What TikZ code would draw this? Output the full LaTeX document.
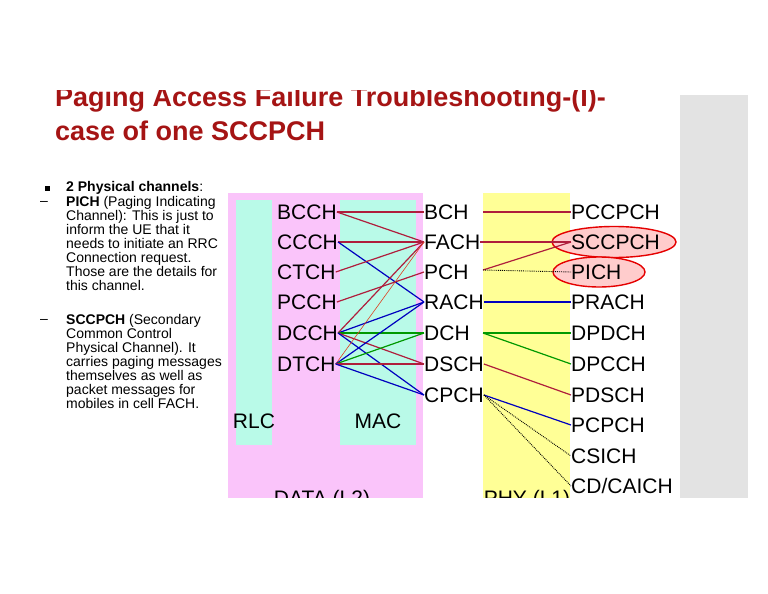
\documentclass[tikz,border=0pt]{standalone}
\usepackage{fontspec}
\setmainfont{Liberation Sans}
\usetikzlibrary{shapes.geometric}
\definecolor{pinkbg}{RGB}{250,196,250}
\definecolor{mint}{RGB}{185,250,232}
\definecolor{yel}{RGB}{255,255,150}
\definecolor{lred}{RGB}{175,30,60}
\definecolor{ttl}{RGB}{165,20,20}
\begin{document}
\begin{tikzpicture}[x=1pt,y=-1pt,
  ch/.style={font=\fontsize{21}{22}\selectfont,inner sep=0pt,text height=15pt,text depth=0pt,anchor=west},
  lbl/.style={font=\fontsize{21}{22}\selectfont,inner sep=0pt},
  body/.style={font=\fontsize{14}{14}\selectfont,inner sep=0pt,anchor=north west,align=left},
  rl/.style={draw=lred,line width=1.2pt},
  bl/.style={draw=blue!75!black,line width=1.2pt},
  gl/.style={draw=green!60!black,line width=1.2pt},
  dl/.style={draw=black,densely dotted,line width=0.9pt},
  ring/.style={draw=red!90!black,line width=1.4pt,fill=red!20,ellipse}]
\useasboundingbox (0,0) rectangle (768,594);
\fill[white] (0,0) rectangle (768,594);
\fill[gray!22] (680,95) rectangle (748,498);
% title
\node[anchor=west,inner sep=0pt,text=ttl,font=\bfseries\fontsize{27}{28}\selectfont] (t1) at (55,100) {Paging Access Failure Troubleshooting-(I)-};
\node[anchor=west,inner sep=0pt,text=ttl,font=\bfseries\fontsize{27}{28}\selectfont] (t2) at (55,131) {case of one SCCPCH};
\fill[white] (40,0) rectangle (680,90);
% left text
\node[inner sep=0pt,minimum size=5pt,fill=black] (b0) at (47,188) {};
\node[body,anchor=west] (b1) at (66,188) {\textbf{2 Physical channels}:};
\node[body,anchor=west] (d1) at (40,203) {--};
\node[body] (p1) at (66,196) {\textbf{PICH} (Paging Indicating\\Channel): This is just to\\inform the UE that it\\needs to initiate an RRC\\Connection request.\\Those are the details for\\this channel.};
\node[body,anchor=west] (d2) at (40,321) {--};
\node[body] (p2) at (66,314) {\textbf{SCCPCH} (Secondary\\Common Control\\Physical Channel). It\\carries paging messages\\themselves as well as\\packet messages for\\mobiles in cell FACH.};
% regions
\fill[pinkbg] (228,193) rectangle (423,498);
\fill[mint] (236,200) rectangle (272,445);
\fill[mint] (340,200) rectangle (416,445);
\fill[yel] (483,193) rectangle (570,498);
\node[lbl] (rlc) at (254,421) {RLC};
\node[lbl] (mac) at (378,421) {MAC};
\node[lbl] (l2) at (322,500) {DATA (L2)};
\node[lbl] (l1) at (527,500) {PHY (L1)};
\fill[white] (220,498) rectangle (680,594);
% ellipses
\node[ring,minimum width=124pt,minimum height=31pt] (e1) at (614,242) {};
\node[ring,minimum width=92pt,minimum height=30pt] (e2) at (599,272) {};
% logical
\node[ch] (bcch) at (277,212) {BCCH};
\node[ch] (ccch) at (277,242) {CCCH};
\node[ch] (ctch) at (277,272) {CTCH};
\node[ch] (pcch) at (277,302) {PCCH};
\node[ch] (dcch) at (277,333) {DCCH};
\node[ch] (dtch) at (277,364) {DTCH};
% transport
\node[ch] (bch) at (424,212) {BCH};
\node[ch] (fach) at (424,242) {FACH};
\node[ch] (pch) at (424,272) {PCH};
\node[ch] (rach) at (424,302) {RACH};
\node[ch] (dch) at (424,333) {DCH};
\node[ch] (dsch) at (424,364) {DSCH};
\node[ch] (cpch) at (424,395) {CPCH};
% physical
\node[ch] (pccpch) at (571,212) {PCCPCH};
\node[ch] (sccpch) at (571,242) {SCCPCH};
\node[ch] (pich) at (571,272) {PICH};
\node[ch] (prach) at (571,302) {PRACH};
\node[ch] (dpdch) at (571,333) {DPDCH};
\node[ch] (dpcch) at (571,364) {DPCCH};
\node[ch] (pdsch) at (571,395) {PDSCH};
\node[ch] (pcpch) at (571,425) {PCPCH};
\node[ch] (csich) at (571,456) {CSICH};
\node[ch] (cdcaich) at (571,486) {CD/CAICH};
% L2 connectors
\draw[rl] (bcch.east) -- (bch.west);
\draw[rl] (bcch.east) -- (fach.west);
\draw[rl] (ccch.east) -- (fach.west);
\draw[bl] (ccch.east) -- (rach.west);
\draw[rl] (ctch.east) -- (fach.west);
\draw[rl] (pcch.east) -- (pch.west);
\draw[rl] (dcch.east) -- (fach.west);
\draw[bl] (dcch.east) -- (rach.west);
\draw[gl] (dcch.east) -- (dch.west);
\draw[rl] (dcch.east) -- (dsch.west);
\draw[bl] (dcch.east) -- (cpch.west);
\draw[draw=red!50!brown,line width=0.6pt] (dtch.east) -- (fach.west);
\draw[bl] (dtch.east) -- (rach.west);
\draw[gl] (dtch.east) -- (dch.west);
\draw[rl] (dtch.east) -- (dsch.west);
\draw[bl] (dtch.east) -- (cpch.west);
% L1 connectors
\coordinate (bchR) at (483,212);
\coordinate (pchR) at (483,270);
\coordinate (dchR) at (483,333);
\draw[rl] (bchR) -- (pccpch.west);
\draw[rl] (fach.east) -- (sccpch.west);
\draw[rl] (pchR) -- (sccpch.west);
\draw[dl] (pchR) -- (pich.west);
\draw[bl] (rach.east) -- (prach.west);
\draw[gl] (dchR) -- (dpdch.west);
\draw[gl] (dchR) -- (dpcch.west);
\draw[rl] (dsch.east) -- (pdsch.west);
\draw[bl] (cpch.east) -- (pcpch.west);
\draw[dl] (cpch.east) -- (csich.west);
\draw[dl] (cpch.east) -- (cdcaich.west);
\end{tikzpicture}
\end{document}
